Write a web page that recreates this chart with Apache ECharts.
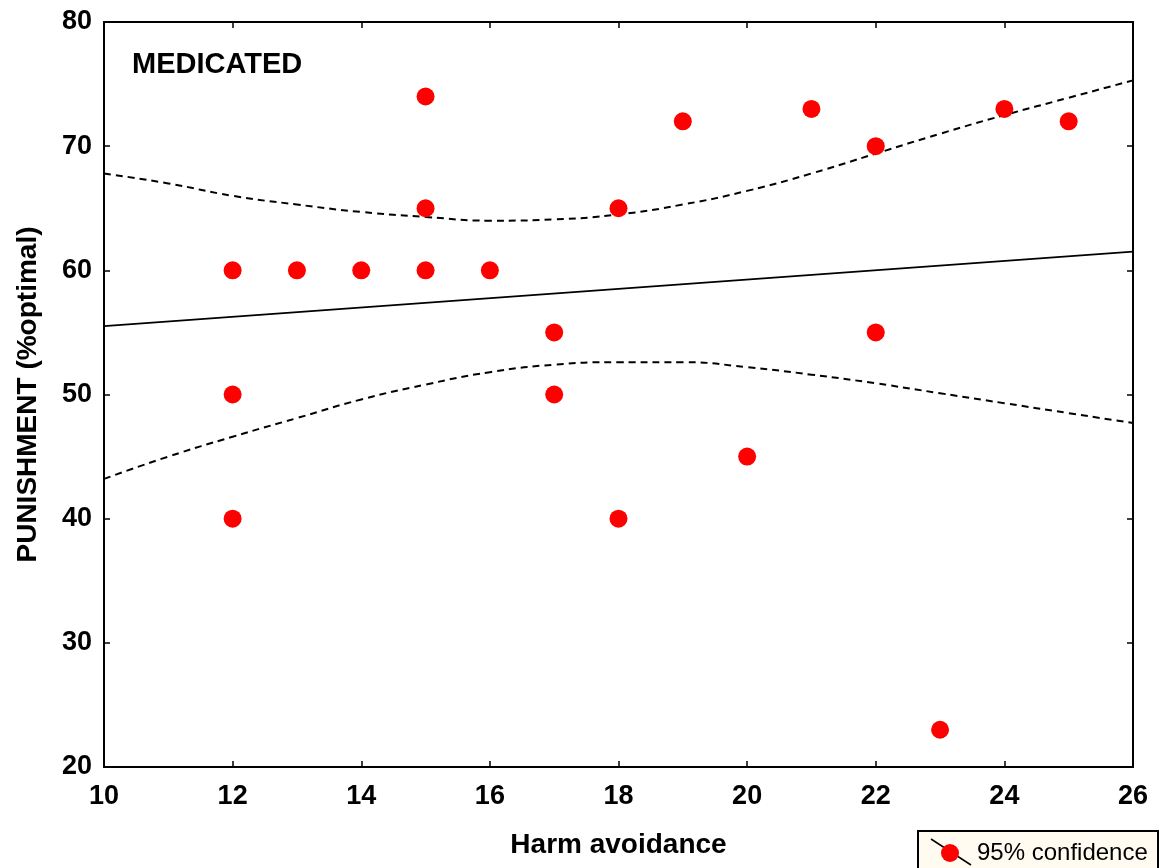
<!DOCTYPE html>
<html>
<head>
<meta charset="utf-8">
<script src="https://cdn.jsdelivr.net/npm/echarts@6/dist/echarts.min.js"></script>
<style>
  html, body { margin: 0; padding: 0; background: #fff; }
  #chart { width: 1160px; height: 868px; }
</style>
</head>
<body>
<div id="chart"></div>
<script>
// values
const harmX = [12, 12, 12, 13, 14, 15, 15, 15, 16, 17, 17, 18, 18, 19, 20, 21, 22, 22, 23, 24, 25];
const punishY = [60, 50, 40, 60, 60, 74, 65, 60, 60, 55, 50, 65, 40, 72, 45, 73, 70, 55, 23, 73, 72];

// fitted line and 95% band, estimated at each whole x
const fitX = [10, 26];
const fitY = [55.5, 61.5];
const bandX = [10, 11, 12, 13, 14, 15, 16, 17, 18, 19, 20, 21, 22, 23, 24, 25, 26];
const upperY = [67.8, 67.0, 66.0, 65.3, 64.7, 64.3, 64.0, 64.1, 64.5, 65.3, 66.4, 67.8, 69.4, 71.0, 72.5, 73.9, 75.3];
const lowerY = [43.2, 45.0, 46.6, 48.1, 49.6, 50.8, 51.8, 52.4, 52.6, 52.6, 52.2, 51.6, 50.9, 50.1, 49.3, 48.5, 47.7];

const xTicks = { min: 10, max: 26, interval: 2 };
const yTicks = { min: 20, max: 80, interval: 10 };

const pairs = (xs, ys) => xs.map((x, i) => [x, ys[i]]);

const chart = echarts.init(document.getElementById("chart"));
const font = "Liberation Sans, Arial, sans-serif";
const axisLine = { show: true, onZero: false, lineStyle: { color: "#000", width: 2 } };
const axisTick = { show: true, inside: true, length: 6, lineStyle: { color: "#000", width: 1.5 } };

const option = {
  backgroundColor: "#fff",
  animation: false,
  grid: { left: 104, top: 22, right: 27, bottom: 101 },
  xAxis: [
    {
      type: "value",
      min: xTicks.min, max: xTicks.max, interval: xTicks.interval,
      name: "Harm avoidance",
      nameLocation: "middle",
      nameGap: 64,
      nameTextStyle: { fontFamily: font, fontWeight: "bold", fontSize: 28, color: "#000" },
      axisLine: axisLine,
      axisTick: axisTick,
      axisLabel: { fontFamily: font, fontWeight: "bold", fontSize: 27, color: "#000", margin: 16 },
      splitLine: { show: false }
    },
    {
      type: "value", position: "top",
      min: xTicks.min, max: xTicks.max, interval: xTicks.interval,
      axisLine: axisLine, axisTick: axisTick,
      axisLabel: { show: false }, splitLine: { show: false }
    }
  ],
  yAxis: [
    {
      type: "value",
      min: yTicks.min, max: yTicks.max, interval: yTicks.interval,
      name: "PUNISHMENT (%optimal)",
      nameLocation: "middle",
      nameGap: 62,
      nameTextStyle: { fontFamily: font, fontWeight: "bold", fontSize: 28, color: "#000" },
      axisLine: axisLine,
      axisTick: axisTick,
      axisLabel: { fontFamily: font, fontWeight: "bold", fontSize: 27, color: "#000", margin: 12 },
      splitLine: { show: false }
    },
    {
      type: "value", position: "right",
      min: yTicks.min, max: yTicks.max, interval: yTicks.interval,
      axisLine: axisLine, axisTick: axisTick,
      axisLabel: { show: false }, splitLine: { show: false }
    }
  ],
  series: [
    {
      name: "upper", type: "line", data: pairs(bandX, upperY),
      smooth: true, symbol: "none", silent: true,
      lineStyle: { color: "#000", width: 2, type: [7, 5] }
    },
    {
      name: "lower", type: "line", data: pairs(bandX, lowerY),
      smooth: true, symbol: "none", silent: true,
      lineStyle: { color: "#000", width: 2, type: [7, 5] }
    },
    {
      name: "fit", type: "line", data: pairs(fitX, fitY),
      symbol: "none", silent: true,
      lineStyle: { color: "#000", width: 1.8 }
    },
    {
      name: "95% confidence", type: "scatter", data: pairs(harmX, punishY),
      symbol: "circle", symbolSize: 18, z: 5,
      itemStyle: { color: "#ff0000", opacity: 1 }
    }
  ],
  graphic: [
    {
      type: "text", left: 132, top: 50,
      style: { text: "MEDICATED", font: "bold 29px " + font, fill: "#000" }
    },
    {
      type: "group", left: 917, top: 830,
      children: [
        { type: "rect", shape: { x: 0, y: 0, width: 240, height: 44 },
          style: { fill: "#fffbf0", stroke: "#000", lineWidth: 2 } },
        { type: "line", shape: { x1: 13, y1: 8, x2: 53, y2: 34 },
          style: { stroke: "#000", lineWidth: 1.5 } },
        { type: "circle", shape: { cx: 32, cy: 22, r: 9 },
          style: { fill: "#ff0000" } },
        { type: "text", x: 59, y: 22,
          style: { text: "95% confidence", font: "24px " + font, fill: "#000", verticalAlign: "middle" } }
      ]
    }
  ]
};

chart.setOption(option);
</script>
</body>
</html>
